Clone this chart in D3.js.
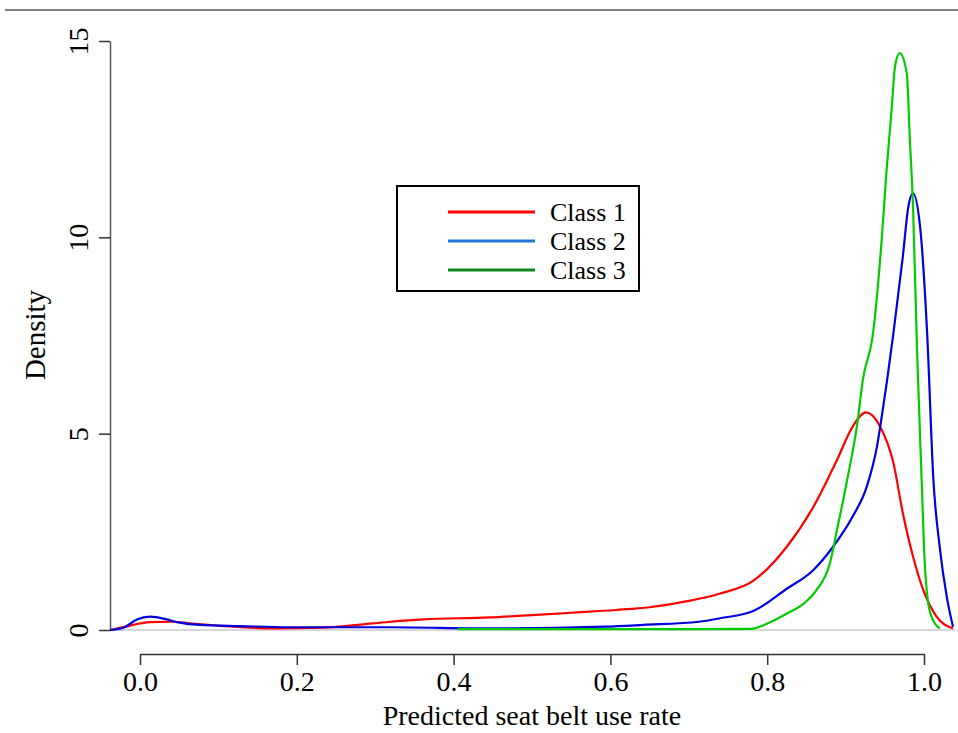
<!DOCTYPE html>
<html>
<head>
<meta charset="utf-8">
<script src="https://cdn.jsdelivr.net/npm/d3@7"></script>
<style>
  body { margin: 0; background: #fff; }
  svg text { font-family: 'Liberation Serif', 'Times New Roman', Times, serif; fill: #000; }
</style>
</head>
<body>
<svg width="958" height="733"></svg>
<script>
// density curves
var class1X = [-0.038, -0.02, 0.013, 0.04, 0.064, 0.106, 0.17, 0.233, 0.297, 0.361, 0.446, 0.5, 0.55, 0.607, 0.65, 0.7, 0.74, 0.782, 0.825, 0.859, 0.889, 0.909, 0.926, 0.944, 0.961, 0.973, 0.986, 0.999, 1.016, 1.037]
var class1Y = [0, 0.08, 0.2, 0.21, 0.17, 0.1, 0.04, 0.06, 0.17, 0.27, 0.32, 0.38, 0.44, 0.51, 0.58, 0.74, 0.93, 1.25, 2.12, 3.14, 4.33, 5.18, 5.54, 5.18, 4.25, 2.98, 1.87, 1.02, 0.34, 0.04]

var class2X = [-0.038, -0.022, -0.004, 0.013, 0.034, 0.047, 0.077, 0.128, 0.191, 0.319, 0.446, 0.593, 0.642, 0.713, 0.74, 0.783, 0.825, 0.859, 0.884, 0.909, 0.927, 0.94, 0.948, 0.953, 0.961, 0.973, 0.98, 0.986, 0.995, 1.004, 1.012, 1.02, 1.029, 1.037]
var class2Y = [0, 0.05, 0.27, 0.34, 0.27, 0.2, 0.13, 0.1, 0.07, 0.07, 0.04, 0.085, 0.13, 0.21, 0.3, 0.49, 1.05, 1.53, 2.12, 2.89, 3.65, 4.67, 5.69, 6.37, 7.56, 9.51, 10.78, 11.12, 10.27, 7.56, 3.82, 2.12, 0.85, 0.08]

var class3X = [0.405, 0.5, 0.6, 0.7, 0.779, 0.805, 0.825, 0.847, 0.863, 0.88, 0.889, 0.902, 0.915, 0.922, 0.935, 0.946, 0.952, 0.959, 0.963, 0.969, 0.978, 0.982, 0.986, 0.991, 0.997, 1.001, 1.008, 1.02]
var class3Y = [0.02, 0.02, 0.02, 0.02, 0.03, 0.21, 0.42, 0.68, 1.02, 1.7, 2.55, 3.82, 5.27, 6.37, 7.56, 9.93, 11.64, 13.33, 14.35, 14.69, 14.18, 12.48, 10.78, 7.2, 3.82, 1.7, 0.43, 0.04]

var xTicks = [0, 0.2, 0.4, 0.6, 0.8, 1.0]
var yTicks = [0, 5, 10, 15]
var classNames = ["Class 1", "Class 2", "Class 3"]
var lineColors = ["#ff0000", "#0000e0", "#00cc00"]
var legendColors = ["#ff0000", "#1e78d6", "#0a8a1e"]

var serif = "'Liberation Serif', 'Times New Roman', Times, serif"

var svg = d3.select("svg")

var x = d3.scaleLinear().domain([0, 1]).range([140, 924])
var y = d3.scaleLinear().domain([0, 15]).range([630, 41])

// rule at the top of the page
svg.append("line")
  .attr("x1", 5).attr("x2", 958).attr("y1", 10).attr("y2", 10)
  .attr("stroke", "#555").attr("stroke-width", 1.5)

// zero line
svg.append("line")
  .attr("x1", x(-0.038)).attr("x2", x(1.04)).attr("y1", y(0)).attr("y2", y(0))
  .attr("stroke", "#b0b0b0").attr("stroke-width", 1.2)

// x axis
var xAxis = svg.append("g")
  .attr("transform", "translate(0,654)")
  .call(d3.axisBottom(x).tickValues(xTicks).tickFormat(d3.format(".1f")).tickSize(11).tickSizeOuter(0))
xAxis.attr("font-family", serif)
xAxis.select(".domain").attr("stroke", "#333").attr("stroke-width", 1.5)
xAxis.selectAll(".tick line").attr("stroke", "#333").attr("stroke-width", 1.5)
xAxis.selectAll(".tick text")
  .attr("y", 17).attr("dy", "0.71em")
  .attr("font-family", serif)
  .style("font-size", "28px")

// y axis
var yAxis = svg.append("g")
  .attr("transform", "translate(110,0)")
  .call(d3.axisLeft(y).tickValues(yTicks).tickSize(11).tickSizeOuter(0))
yAxis.attr("font-family", serif)
yAxis.select(".domain").attr("stroke", "#555").attr("stroke-width", 1.5)
yAxis.selectAll(".tick line").attr("stroke", "#333").attr("stroke-width", 1.5)
yAxis.selectAll(".tick text")
  .attr("x", null).attr("dy", null)
  .attr("text-anchor", "middle")
  .attr("font-family", serif)
  .attr("transform", "translate(-22,0) rotate(-90)")
  .style("font-size", "28px")

// axis titles
svg.append("text")
  .attr("x", 532).attr("y", 725)
  .attr("text-anchor", "middle")
  .attr("font-family", serif)
  .style("font-size", "28px")
  .text("Predicted seat belt use rate")

svg.append("text")
  .attr("transform", "translate(45,335) rotate(-90)")
  .attr("text-anchor", "middle")
  .attr("font-family", serif)
  .style("font-size", "29px")
  .text("Density")

// curves
var line = d3.line()
  .x(function(d){ return x(d[0]) })
  .y(function(d){ return y(d[1]) })
  .curve(d3.curveMonotoneX)

var series = [
  d3.zip(class1X, class1Y),
  d3.zip(class2X, class2Y),
  d3.zip(class3X, class3Y)
]

svg.append("g")
  .selectAll("path")
  .data(series)
  .enter()
  .append("path")
    .attr("d", line)
    .attr("fill", "none")
    .attr("stroke", function(d, i){ return lineColors[i] })
    .attr("stroke-width", 2.2)

// legend
var legend = svg.append("g")
legend.append("rect")
  .attr("x", 397).attr("y", 186).attr("width", 242).attr("height", 105)
  .attr("fill", "#fff").attr("stroke", "#000").attr("stroke-width", 2)

var rows = legend.selectAll(".row")
  .data(classNames)
  .enter()
  .append("g")
    .attr("transform", function(d, i){ return "translate(0," + (212 + i * 29) + ")" })

rows.append("line")
  .attr("x1", 448).attr("x2", 535)
  .attr("stroke", function(d, i){ return legendColors[i] })
  .attr("stroke-width", 3)

rows.append("text")
  .attr("x", 550).attr("dy", "0.33em")
  .attr("font-family", serif)
  .style("font-size", "26px")
  .text(function(d){ return d })
</script>
</body>
</html>
